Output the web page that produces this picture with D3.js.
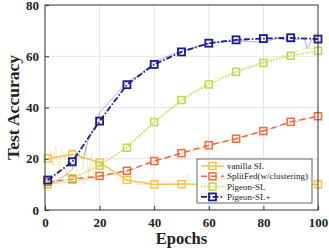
<!DOCTYPE html>
<html>
<head>
<meta charset="utf-8">
<script src="https://cdnjs.cloudflare.com/ajax/libs/d3/7.8.5/d3.min.js"></script>
<style>
  html, body { margin: 0; padding: 0; background: #fff; }
  #chart { width: 329px; height: 249px; }
  text { font-family: "Liberation Serif", "DejaVu Serif", serif; }
  .axis text { font-weight: bold; font-size: 13px; fill: #222; }
</style>
</head>
<body>
<div id="chart"></div>
<script>
'use strict';

// marker epochs and the four series
const epochs = [1, 10, 20, 30, 40, 50, 60, 70, 80, 90, 100];
const vanillaSL  = [20.1, 21.7, 18.6, 11.7, 10.0, 10.1, 10.0, 10.0, 10.0, 10.0, 10.0];
const splitFed   = [11.0, 12.0, 13.3, 15.3, 19.1, 22.2, 25.3, 27.8, 30.8, 34.4, 36.6];
const pigeonSL   = [10.0, 12.4, 17.3, 24.3, 34.3, 42.9, 49.0, 53.9, 57.4, 60.2, 62.1];
const pigeonSLp  = [11.7, 18.8, 34.7, 48.9, 56.8, 61.7, 65.1, 66.4, 66.9, 67.2, 66.7];

// faint raw curves behind the smoothed ones (epoch, value)
const vanillaRaw = [[1,20],[2,23],[3,17],[4,25],[5,14],[6,24],[7,22],[8,13],[9,24],[10,23],[11,24],[12,19],[13,24],[14,16],[15,25],[16,13],[17,22],[18,12],[19,20],[20,17],[22,16],[25,14],[28,12],[30,11],[35,10],[40,10],[50,10],[51,10],[52,14],[53,10],[60,10],[100,10]];
const splitRaw   = [[1,10],[5,10.5],[10,11],[15,12],[20,13],[30,15],[40,19],[50,22],[60,25],[70,28],[80,31],[90,34],[100,36.5]];
const pigeonRaw  = [[1,10],[5,11],[8,14],[10,12],[12,16],[14,10],[16,16],[18,19],[20,18],[25,21],[30,25],[40,34],[50,43],[60,50],[70,54],[80,58],[90,61],[95,63],[100,63]];
const pigeonPRaw = [[1,10],[5,12],[8,14],[10,16],[12,22],[14,20],[16,28],[18,32],[20,38],[25,44],[30,50],[35,53],[40,58],[50,62],[60,65],[70,66],[80,65.5],[85,67],[90,66],[95,67],[96,63],[98,67],[100,67]];

const xTicks = [0, 20, 40, 60, 80, 100];
const yTicks = [0, 20, 40, 60, 80];

const series = [
  { name: 'vanilla SL', values: vanillaSL, raw: vanillaRaw, color: '#f5c150', dash: null, width: 1.5 },
  { name: 'SplitFed(w/clustering)', values: splitFed, raw: splitRaw, color: '#f2693a', dash: '6,4', width: 1.5 },
  { name: 'Pigeon-SL', values: pigeonSL, raw: pigeonRaw, color: '#c6d64a', dash: '1.5,1.5', width: 1.5 },
  { name: 'Pigeon-SL+', values: pigeonSLp, raw: pigeonPRaw, color: '#1c1a8e', dash: '6,2,1.5,2', width: 1.8 }
];

let padding = { top: 5, right: 11, bottom: 39, left: 45 };
let width = 329, height = 249;
let innerWidth = width - padding.left - padding.right;
let innerHeight = height - padding.top - padding.bottom;

let svg = d3.select('#chart').append('svg')
  .attr('width', width)
  .attr('height', height);
let graph = svg.append('g')
  .attr('transform', 'translate(' + padding.left + ',' + padding.top + ')');

let x = d3.scaleLinear().domain([0, 100]).range([0, innerWidth]);
let y = d3.scaleLinear().domain([0, 80]).range([innerHeight, 0]);

// grid
graph.append('g').selectAll('line').data(xTicks.slice(1, -1)).enter()
  .append('line')
  .attr('x1', d => x(d)).attr('x2', d => x(d))
  .attr('y1', 0).attr('y2', innerHeight)
  .attr('stroke', '#e4e4e4').attr('stroke-width', 1);
graph.append('g').selectAll('line').data(yTicks.slice(1, -1)).enter()
  .append('line')
  .attr('y1', d => y(d)).attr('y2', d => y(d))
  .attr('x1', 0).attr('x2', innerWidth)
  .attr('stroke', '#e4e4e4').attr('stroke-width', 1);

// axes
let xAxis = d3.axisBottom(x).tickValues(xTicks).tickSize(-4).tickPadding(8);
let yAxis = d3.axisLeft(y).tickValues(yTicks).tickSize(-4).tickPadding(6);
graph.append('g').attr('class', 'x axis')
  .attr('transform', 'translate(0,' + innerHeight + ')')
  .call(xAxis);
graph.append('g').attr('class', 'y axis').call(yAxis);
graph.selectAll('.axis .domain').remove();
graph.selectAll('.axis line').attr('stroke', '#333');

// lines
let line = d3.line().x(d => x(d[0])).y(d => y(d[1]));

series.forEach((s) => {
  graph.append('path')
    .attr('d', line(s.raw))
    .attr('fill', 'none')
    .attr('stroke', s.color)
    .attr('stroke-opacity', 0.35)
    .attr('stroke-width', 1);
});

series.forEach((s) => {
  let pts = epochs.map((e, i) => [e, s.values[i]]);
  graph.append('path')
    .attr('d', line(pts))
    .attr('fill', 'none')
    .attr('stroke', s.color)
    .attr('stroke-width', s.width)
    .attr('stroke-dasharray', s.dash);
  graph.selectAll(null).data(pts).enter()
    .append('rect')
    .attr('x', d => x(d[0]) - 3.5)
    .attr('y', d => y(d[1]) - 3.5)
    .attr('width', 7).attr('height', 7)
    .attr('fill', 'none')
    .attr('stroke', s.color)
    .attr('stroke-width', s.width);
});

// frame
graph.append('rect')
  .attr('width', innerWidth).attr('height', innerHeight)
  .attr('fill', 'none').attr('stroke', '#333').attr('stroke-width', 1);

// legend
let legend = graph.append('g').attr('transform', 'translate(152,154)');
legend.append('rect')
  .attr('width', 115).attr('height', 44)
  .attr('fill', '#fff').attr('stroke', '#444').attr('stroke-width', 0.8);
series.forEach((s, i) => {
  let g = legend.append('g').attr('transform', 'translate(0,' + (7 + i * 10.3) + ')');
  g.append('line')
    .attr('x1', 4).attr('x2', 27)
    .attr('stroke', s.color).attr('stroke-width', s.width)
    .attr('stroke-dasharray', s.dash);
  g.append('rect')
    .attr('x', 12).attr('y', -3.5).attr('width', 7).attr('height', 7)
    .attr('fill', 'none').attr('stroke', s.color).attr('stroke-width', s.width);
  g.append('text')
    .attr('x', 30).attr('y', 3)
    .attr('font-size', '9px').attr('fill', '#222')
    .text(s.name);
});

// axis titles
svg.append('text')
  .attr('x', padding.left + innerWidth / 2).attr('y', 244)
  .attr('text-anchor', 'middle')
  .attr('font-size', '16.5px').attr('font-weight', 'bold').attr('fill', '#222')
  .text('Epochs');
svg.append('text')
  .attr('transform', 'translate(19,' + (padding.top + innerHeight / 2) + ') rotate(-90)')
  .attr('text-anchor', 'middle')
  .attr('font-size', '17.5px').attr('font-weight', 'bold').attr('fill', '#222')
  .text('Test Accuracy');
</script>
</body>
</html>
